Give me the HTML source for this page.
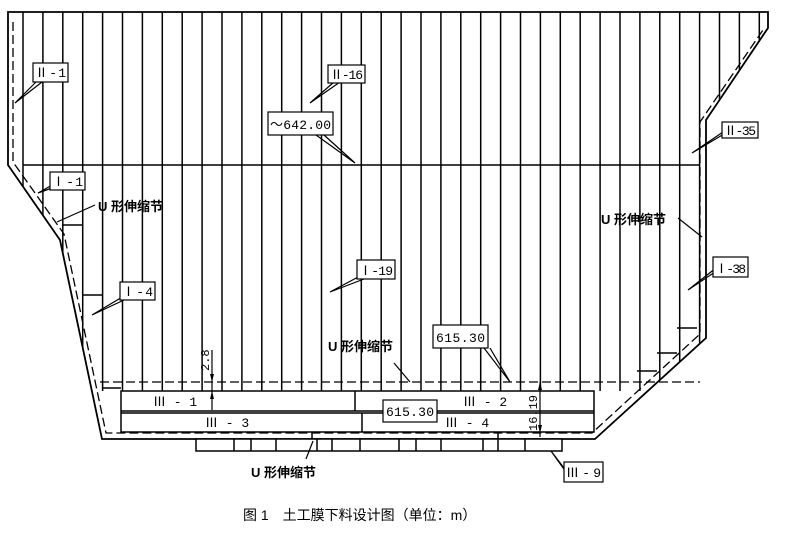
<!DOCTYPE html>
<html><head><meta charset="utf-8"><style>
html,body{margin:0;padding:0;background:#fff;}
svg{display:block;}
text{font-family:"Liberation Mono","Noto Sans CJK SC",monospace;font-size:13px;fill:#000;}
.cj{font-family:"Liberation Sans","Noto Sans CJK SC",sans-serif;font-size:13px;font-weight:bold;}
</style></head><body>
<svg width="789" height="536" viewBox="0 0 789 536" xmlns="http://www.w3.org/2000/svg">
<defs>
<clipPath id="c"><polygon points="8,12 768,12 768,28 706,118 706,338 595,438 102,438 60,240 8,165"/></clipPath>
</defs>
<g stroke="#000" fill="none" stroke-width="1.5">
<g clip-path="url(#c)" id="strips"></g>
<polygon points="8,12 768,12 768,28 706,120 706,338 595,439 102,439 60,240 8,165" stroke-width="1.8"/>
<polyline points="13,22 13,162 64,234 106,433 592,433 700,334 700,122 763,30" stroke-dasharray="9,4" stroke-width="1.3"/>
<line x1="100" y1="382" x2="700" y2="382" stroke-dasharray="9,4" stroke-width="1.3"/>
<line x1="23" y1="165" x2="700" y2="165"/>
<rect x="121" y="391" width="473" height="41" fill="#fff"/>
<line x1="121" y1="411" x2="594" y2="411"/>
<line x1="121" y1="413" x2="594" y2="413"/>
<line x1="355" y1="391" x2="355" y2="411"/>
<line x1="362" y1="413" x2="362" y2="432"/>
<line x1="102" y1="388" x2="121" y2="388"/>
<line x1="62" y1="225" x2="82" y2="225"/>
<line x1="82" y1="295" x2="102" y2="295"/>
<line x1="677" y1="328" x2="697" y2="328"/>
<line x1="657" y1="353" x2="677" y2="353"/>
<line x1="637" y1="371" x2="657" y2="371"/>
<line x1="498" y1="433" x2="498" y2="439"/>
<line x1="312" y1="433" x2="312" y2="439"/>
<rect x="196" y="439" width="366" height="12" fill="#fff"/>
<g id="blk"></g>
<g stroke-width="1.2">
<polyline points="36,82 15,103 42,82"/>
<polyline points="334,82 310,103 340,82"/>
<polyline points="316,135 355,163 324,135"/>
<polyline points="52,188 38,193 54,184"/>
<line x1="95" y1="205" x2="57" y2="222"/>
<polyline points="724,134 692,153 726,130"/>
<line x1="678" y1="218" x2="702" y2="237"/>
<polyline points="715,272 688,290 716,268"/>
<polyline points="124,296 92,315 124,300"/>
<polyline points="360,276 330,292 364,279"/>
<line x1="394" y1="363" x2="410" y2="382"/>
<polyline points="484,348 510,382 490,348"/>
<line x1="306" y1="459" x2="313" y2="441"/>
<polyline points="566,472 551,451 564,468"/>
<line x1="212" y1="350" x2="212" y2="410"/>
<line x1="540" y1="382" x2="540" y2="437"/>
</g>
</g>
<g fill="#000">
<polygon points="212,382 210,374 214,374"/><polygon points="212,391 210,399 214,399"/>
<polygon points="540,382 538,390 542,390"/><polygon points="540,433 538,425 542,425"/>
</g>
<g fill="#fff" stroke="#000" stroke-width="1.2">
<rect x="33" y="63" width="35" height="19"/>
<rect x="328" y="65" width="37" height="18"/>
<rect x="268" y="112" width="65" height="23"/>
<rect x="50" y="172" width="35" height="18"/>
<rect x="722" y="122" width="36" height="16"/>
<rect x="713" y="257" width="35" height="20"/>
<rect x="120" y="282" width="35" height="18"/>
<rect x="357" y="260" width="38" height="19"/>
<rect x="433" y="325" width="55" height="23"/>
<rect x="383" y="400" width="54" height="22"/>
<rect x="564" y="462" width="39" height="20"/>
</g>
<text x="35" y="77" textLength="31">Ⅱ-1</text>
<text x="330" y="79" textLength="33">Ⅱ-16</text>
<text x="270" y="129" textLength="61">～642.00</text>
<text x="52" y="186" textLength="31">Ⅰ-1</text>
<text x="724" y="135" textLength="32">Ⅱ-35</text>
<text x="715" y="273" textLength="31">Ⅰ-38</text>
<text x="122" y="296" textLength="31">Ⅰ-4</text>
<text x="359" y="275" textLength="34">Ⅰ-19</text>
<text x="436" y="342" textLength="49">615.30</text>
<text x="386" y="416" textLength="48">615.30</text>
<text x="566" y="477" textLength="35">Ⅲ-9</text>
<text x="153" y="406">Ⅲ - 1</text>
<text x="463" y="406">Ⅲ - 2</text>
<text x="205" y="427">Ⅲ - 3</text>
<text x="445" y="427">Ⅲ - 4</text>
<text transform="translate(209,371) rotate(-90)" style="font-size:12px">2.8</text>
<text transform="translate(537,431) rotate(-90)" style="font-size:12px">16.19</text>
<text class="cj" x="98" y="211">U 形伸缩节</text>
<text class="cj" x="601" y="224">U 形伸缩节</text>
<text class="cj" x="328" y="351">U 形伸缩节</text>
<text class="cj" x="251" y="477">U 形伸缩节</text>
<text class="cj" x="243" y="520" style="font-weight:normal;font-size:14px">图 1　土工膜下料设计图（单位：m）</text>
<script>
var ns="http://www.w3.org/2000/svg",s=document.getElementById("strips");
function L(g,a,b,c,d){var l=document.createElementNS(ns,"line");l.setAttribute("x1",a);l.setAttribute("y1",b);l.setAttribute("x2",c);l.setAttribute("y2",d);g.appendChild(l);}
for(var i=0;i<38;i++){var x=23+19.9*i;L(s,x,12,x,x>700?200:391);}
var b=document.getElementById("blk");
[234,251,276,317,332,360,399,416,441,483,498,525].forEach(function(x){L(b,x,439,x,451);});
</script>
</svg>
</body></html>
